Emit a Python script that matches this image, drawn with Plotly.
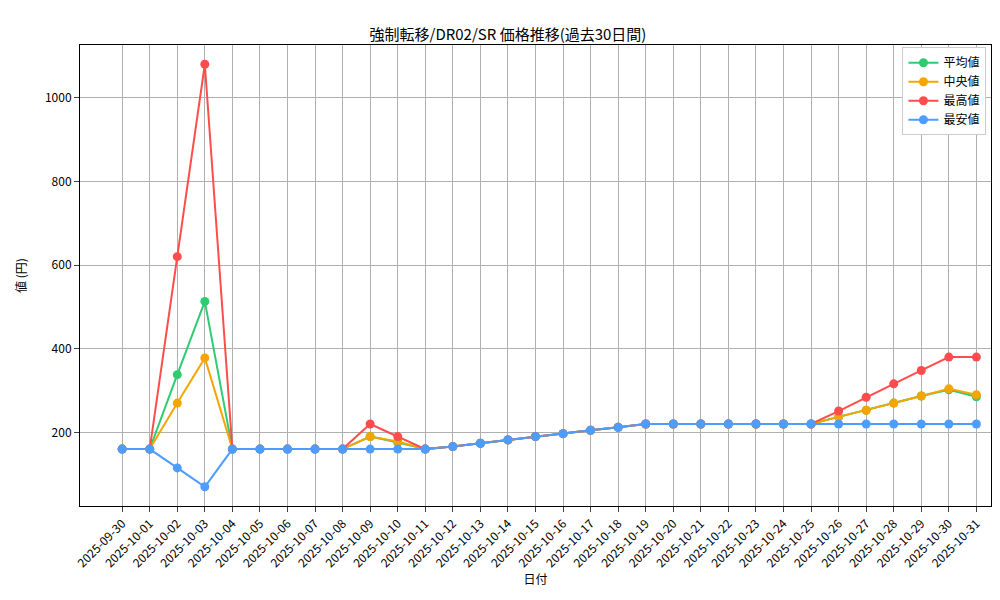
import plotly.graph_objects as go
import pandas as pd

dates = [d.strftime("%Y-%m-%d") for d in pd.date_range("2025-09-30", "2025-10-31")]
avg = [160,160,338,513,160,160,160,160,160,190,176,160,166,174,182,190,197,205,212,220,220,220,220,220,220,220,237,253,270,287,302,285]
med = [160,160,270,378,160,160,160,160,160,190,178,160,166,174,182,190,197,205,212,220,220,220,220,220,220,220,237,253,270,287,304,290]
mx  = [160,160,620,1080,160,160,160,160,160,220,190,160,166,174,182,190,197,205,212,220,220,220,220,220,220,220,251,284,316,348,380,380]
mn  = [160,160,115,70,160,160,160,160,160,160,160,160,166,174,182,190,197,205,212,220,220,220,220,220,220,220,220,220,220,220,220,220]

series = [("平均値", avg, "#2ecc71"), ("中央値", med, "#f5a500"), ("最高値", mx, "#ff4d4d"), ("最安値", mn, "#4d9dff")]
fig = go.Figure()
for name, ys, c in series:
    fig.add_trace(go.Scatter(x=dates, y=ys, name=name, mode="lines+markers",
                             line=dict(color=c, width=2), marker=dict(color=c, size=9)))
fig.update_layout(
    width=1000, height=600, plot_bgcolor="white", paper_bgcolor="white",
    font=dict(family="Noto Sans CJK JP", size=12, color="black"),
    title=dict(text="強制転移/DR02/SR 価格推移(過去30日間)", x=0.5, xanchor="center", y=0.965, font=dict(size=15)),
    margin=dict(l=72, r=17, t=37, b=102),
    legend=dict(x=0.995, y=0.995, xanchor="right", yanchor="top", bordercolor="#cccccc", borderwidth=1, bgcolor="white"),
    xaxis=dict(title=dict(text="日付", standoff=4, font=dict(size=12)), type="category", tickangle=-45, showgrid=True, gridcolor="#b0b0b0",
               showline=True, linecolor="black", mirror=True, ticks="outside", range=[-1.53, 31.53], automargin=False),
    yaxis=dict(title=dict(text="値 (円)", font=dict(size=12)), range=[24, 1126], tickvals=[200,400,600,800,1000], showgrid=True, gridcolor="#b0b0b0",
               showline=True, linecolor="black", mirror=True, ticks="outside", zeroline=False, automargin=False),
)
fig.write_html("out.html")
